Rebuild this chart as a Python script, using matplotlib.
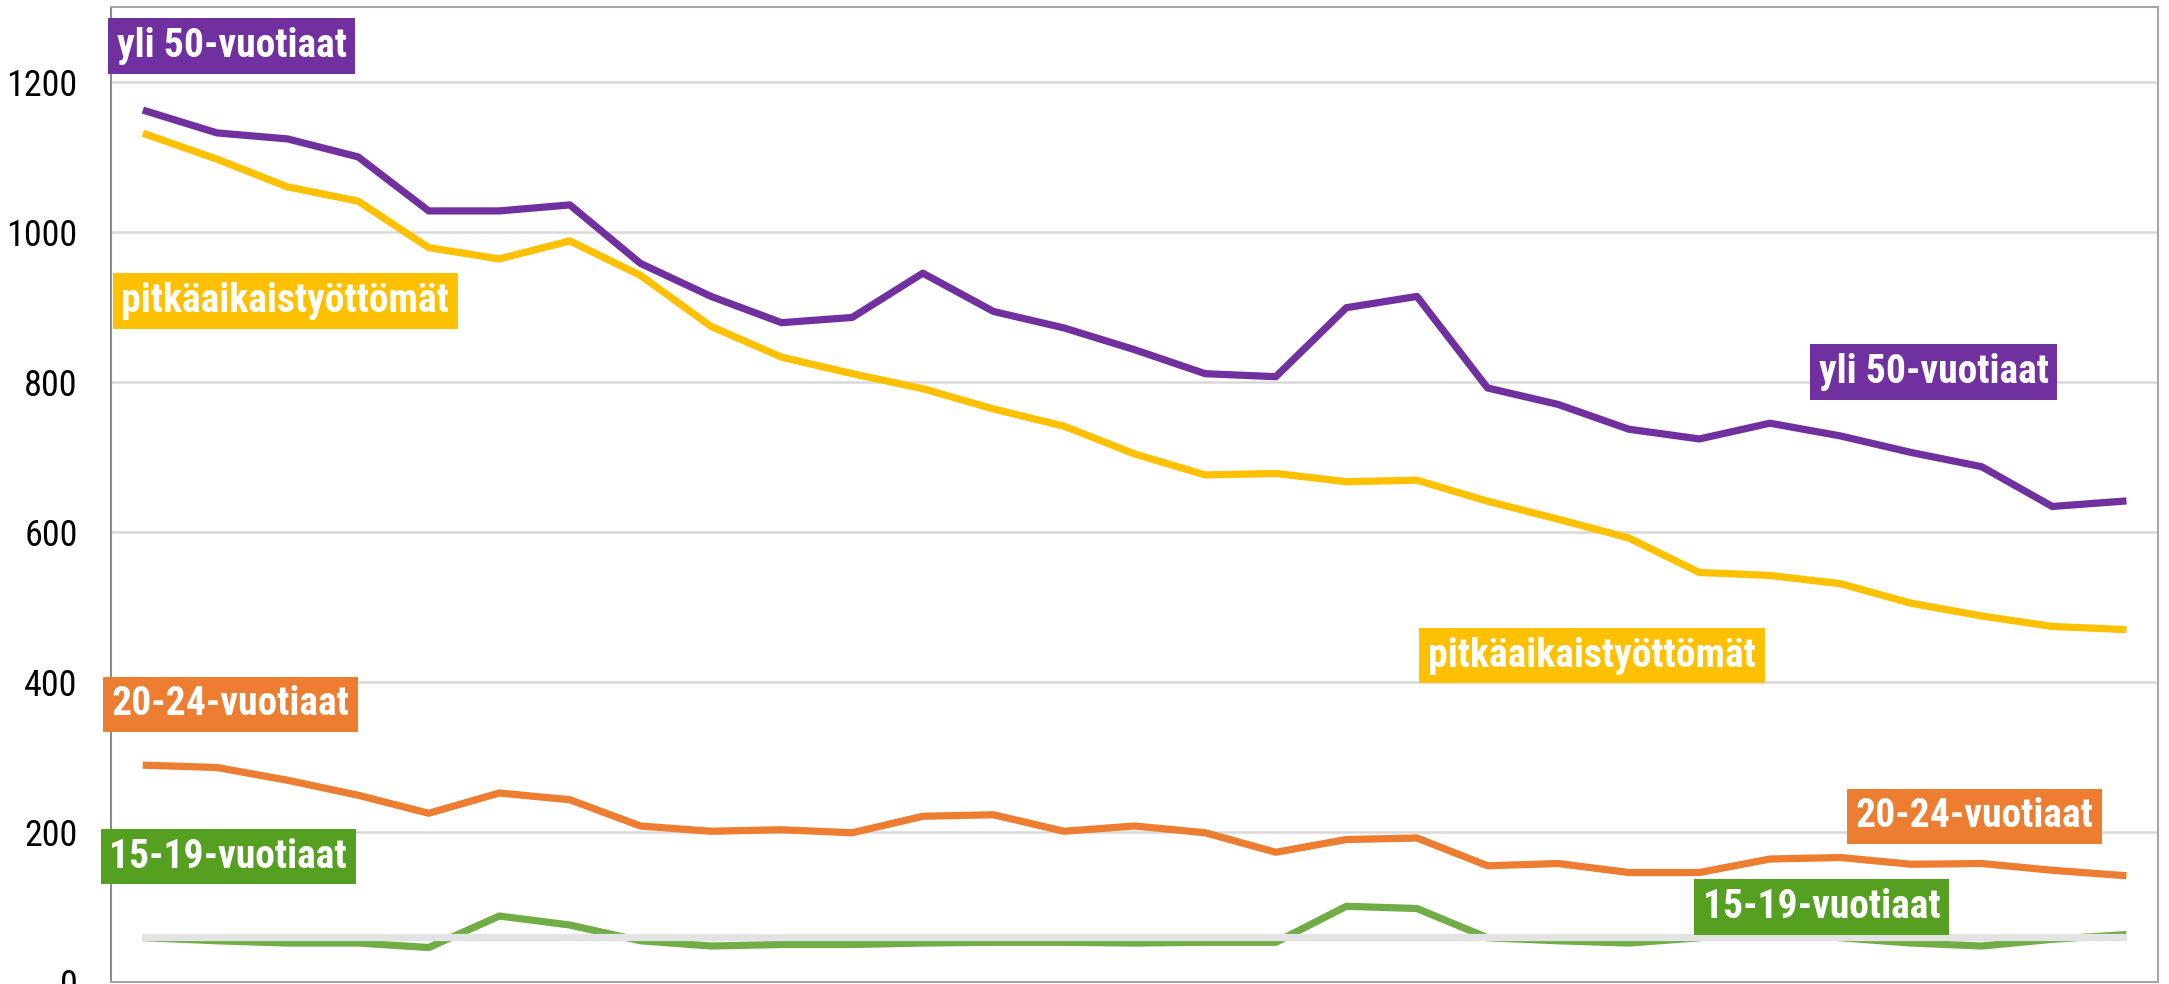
import matplotlib
matplotlib.use("Agg")
import matplotlib.pyplot as plt

plt.rcParams['font.family'] = ['Liberation Sans Narrow', 'Roboto Condensed', 'Open Sans Condensed',
                               'Liberation Sans', 'DejaVu Sans']

# 29 periods, no x labels on the chart
periods = list(range(29))

yli_50 = [1161, 1132, 1124, 1100, 1028, 1028, 1036, 958, 914, 879,
          886, 945, 894, 872, 843, 811, 807, 899, 914, 792,
          770, 737, 724, 745, 728, 706, 687, 634, 641]

pitkaaikais = [1130, 1097, 1060, 1041, 979, 964, 988, 942, 874, 833,
               811, 791, 764, 741, 704, 676, 678, 667, 669, 641,
               617, 592, 546, 542, 531, 505, 488, 474, 470]

v20_24 = [289, 286, 269, 249, 225, 252, 243, 208, 201, 203,
          199, 221, 223, 201, 208, 199, 173, 190, 192, 155,
          158, 146, 146, 164, 166, 157, 158, 149, 142]

v15_19 = [59, 55, 52, 52, 46, 88, 76, 55, 48, 50,
          50, 52, 53, 53, 52, 53, 53, 101, 98, 59,
          55, 52, 59, 66, 59, 52, 48, 57, 63]

reference = [60] * 29

PURPLE = "#7030A0"
YELLOW = "#FFC000"
ORANGE = "#ED7D31"
GREEN = "#70AD47"
GREEN_LABEL = "#55A021"

fig = plt.figure(figsize=(21.69, 9.84), dpi=100)
ax = fig.add_axes([0.0512, 0.002, 0.9438, 0.991])

LW = 5.2
ax.plot(periods, yli_50, color=PURPLE, lw=LW)
ax.plot(periods, pitkaaikais, color=YELLOW, lw=LW)
ax.plot(periods, v20_24, color=ORANGE, lw=LW)
ax.plot(periods, v15_19, color=GREEN, lw=LW)
ax.plot(periods, reference, color="#E3E3E3", lw=LW)

ax.set_xlim(-0.5, 28.5)
ax.set_ylim(0, 1300)
ax.set_yticks([0, 200, 400, 600, 800, 1000, 1200])
ax.set_xticks([])
ax.tick_params(axis='y', length=0, pad=24, labelsize=26)
ax.grid(axis='y', color="#D9D9D9", lw=1.8)
ax.set_axisbelow(True)
for side in ax.spines:
    ax.spines[side].set_color("#A6A6A6")
    ax.spines[side].set_linewidth(1.5)
ax.spines['left'].set_color("#8C8C8C")

labels = [
    ("yli 50-vuotiaat", 1.21, 1248, PURPLE),
    ("pitkäaikaistyöttömät", 1.97, 908, YELLOW),
    ("yli 50-vuotiaat", 25.32, 813, PURPLE),
    ("pitkäaikaistyöttömät", 20.48, 435, YELLOW),
    ("20-24-vuotiaat", 1.19, 370, ORANGE),
    ("15-19-vuotiaat", 1.16, 167, GREEN_LABEL),
    ("20-24-vuotiaat", 25.9, 221, ORANGE),
    ("15-19-vuotiaat", 23.73, 100, GREEN_LABEL),
]
for text, x, y, col in labels:
    ax.text(x, y, text, color="white", fontsize=28.5, fontweight='bold',
            ha='center', va='center', clip_on=False,
            bbox=dict(boxstyle='square,pad=0.22', fc=col, ec='none'))

fig.savefig("out.png", dpi=100)
